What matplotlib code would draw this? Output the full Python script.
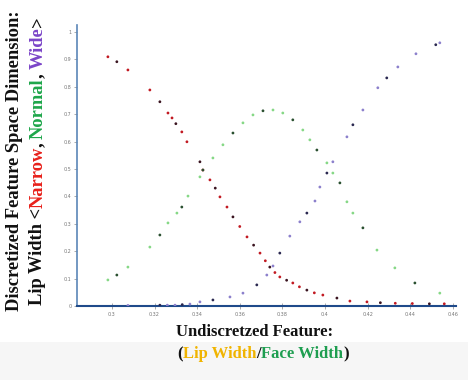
import matplotlib
matplotlib.use("Agg")
import matplotlib.pyplot as plt
from matplotlib.patches import Rectangle

# ---- data ----
narrow_x = [0.2981, 0.3023, 0.3075, 0.3178, 0.3225, 0.3263, 0.3282, 0.3300, 0.3328, 0.3352,
            0.3413, 0.3427, 0.3460, 0.3485, 0.3507, 0.3540, 0.3568, 0.3600, 0.3634, 0.3665,
            0.3695, 0.3720, 0.3741, 0.3765, 0.3788, 0.3820, 0.3849, 0.3880, 0.3915, 0.3950,
            0.3990, 0.4056, 0.4117, 0.4197, 0.4260, 0.4330, 0.4410, 0.4490, 0.4560]
narrow_y = [0.909, 0.891, 0.861, 0.788, 0.745, 0.704, 0.686, 0.665, 0.635, 0.599,
            0.526, 0.496, 0.460, 0.430, 0.398, 0.361, 0.325, 0.290, 0.252, 0.222,
            0.193, 0.165, 0.142, 0.122, 0.106, 0.094, 0.084, 0.070, 0.058, 0.048,
            0.040, 0.029, 0.018, 0.015, 0.012, 0.010, 0.009, 0.008, 0.008]

normal_x = [0.2981, 0.3023, 0.3075, 0.3178, 0.3225, 0.3263, 0.3305, 0.3328, 0.3357, 0.3413,
            0.3427, 0.3474, 0.3521, 0.3568, 0.3615, 0.3662, 0.3709, 0.3756, 0.3802, 0.3849,
            0.3896, 0.3929, 0.3962, 0.4009, 0.4037, 0.4070, 0.4103, 0.4131, 0.4178, 0.4244,
            0.4328, 0.4422, 0.4539]
normal_y = [0.095, 0.113, 0.142, 0.215, 0.259, 0.303, 0.339, 0.361, 0.401, 0.471,
            0.496, 0.540, 0.588, 0.631, 0.668, 0.697, 0.712, 0.715, 0.704, 0.679,
            0.642, 0.606, 0.569, 0.522, 0.485, 0.449, 0.380, 0.339, 0.285, 0.204,
            0.139, 0.084, 0.047]

wide_x = [0.3075, 0.3225, 0.3260, 0.3296, 0.3330, 0.3366, 0.3413, 0.3474, 0.3554, 0.3615,
          0.3680, 0.3727, 0.3756, 0.3788, 0.3835, 0.3882, 0.3915, 0.3953, 0.3976, 0.4009,
          0.4037, 0.4103, 0.4131, 0.4178, 0.4248, 0.4290, 0.4342, 0.4427, 0.4520, 0.4539]
wide_y = [0.002, 0.003, 0.003, 0.003, 0.005, 0.007, 0.015, 0.022, 0.033, 0.047,
          0.077, 0.113, 0.146, 0.193, 0.255, 0.307, 0.339, 0.383, 0.434, 0.485,
          0.526, 0.617, 0.661, 0.715, 0.796, 0.832, 0.872, 0.920, 0.953, 0.960]

x_ticks = [0.30, 0.32, 0.34, 0.36, 0.38, 0.40, 0.42, 0.44, 0.46]
x_tick_labels = ["0.3", "0.32", "0.34", "0.36", "0.38", "0.4", "0.42", "0.44", "0.46"]
y_ticks = [0.0, 0.1, 0.2, 0.3, 0.4, 0.5, 0.6, 0.7, 0.8, 0.9, 1.0]
y_tick_labels = ["0", "0.1", "0.2", "0.3", "0.4", "0.5", "0.6", "0.7", "0.8", "0.9", "1"]

ylabel_line1 = [("Discretized Feature Space Dimension:", "#111111")]
ylabel_line2 = [("Lip Width <", "#111111"), ("Narrow", "#e8201a"), (", ", "#111111"),
                ("Normal", "#1ea64a"), (", ", "#111111"), ("Wide", "#7b45c8"), (">", "#111111")]
xlabel_line1 = [("Undiscretzed Feature:", "#111111")]
xlabel_line2 = [("(", "#111111"), ("Lip Width", "#f0b400"), ("/", "#111111"),
                ("Face Width", "#1e9e50"), (")", "#111111")]

# ---- figure ----
W, H = 468, 380
fig = plt.figure(figsize=(W / 100, H / 100), dpi=100)
fig.patch.set_facecolor("white")
fig.add_artist(Rectangle((0, 0), 1, 38 / H, transform=fig.transFigure,
                         facecolor="#f6f6f6", edgecolor="none", zorder=0))
ax = fig.add_axes([77 / W, 1 - 306 / H, (456 - 77) / W, (306 - 25) / H])
ax.set_xlim(0.2836, 0.4615)
ax.set_ylim(0, 1.025)

def alt_colors(n, c1, c2):
    return [c2 if i % 3 == 1 else c1 for i in range(n)]

ax.scatter(narrow_x, narrow_y, s=4, c=alt_colors(len(narrow_x), "#c21a22", "#3a1420"),
           linewidths=0, zorder=3)
ax.scatter(normal_x, normal_y, s=4, c=alt_colors(len(normal_x), "#86d886", "#2a5030"),
           linewidths=0, zorder=3)
ax.scatter(wide_x, wide_y, s=4, c=alt_colors(len(wide_x), "#8c80cc", "#2a2850"),
           linewidths=0, zorder=3)

for s in ["top", "right"]:
    ax.spines[s].set_visible(False)
ax.spines["left"].set_color("#5b86b8")
ax.spines["left"].set_linewidth(1.2)
ax.spines["bottom"].set_color("#1f4a8a")
ax.spines["bottom"].set_linewidth(1.5)

ax.set_xticks(x_ticks)
ax.set_xticklabels(x_tick_labels)
ax.set_yticks(y_ticks)
ax.set_yticklabels(y_tick_labels)
ax.tick_params(axis="x", direction="inout", length=5, width=0.5, color="#888888",
               labelsize=3.5, labelcolor="#777777", pad=2)
ax.tick_params(axis="y", direction="out", length=2, width=0.5, color="#888888",
               labelsize=3.5, labelcolor="#777777", pad=2)

# ---- multi-coloured labels ----
renderer = fig.canvas.get_renderer()
FONT = dict(family="Liberation Serif", weight="bold")

def text_width(s, size):
    t = fig.text(0, 0, s + "x", fontsize=size, **FONT)
    w1 = t.get_window_extent(renderer).width
    t.remove()
    t = fig.text(0, 0, "x", fontsize=size, **FONT)
    w2 = t.get_window_extent(renderer).width
    t.remove()
    return w1 - w2

def colored_line(pieces, cx, cy, size, rotation=0):
    full = "".join(p for p, _ in pieces)
    total = text_width(full, size)
    prefix = ""
    for s, c in pieces:
        off = text_width(prefix, size) if prefix else 0.0
        if rotation == 0:
            x = cx - total / 2 + off
            fig.text(x / W, 1 - cy / H, s, color=c, fontsize=size, ha="left",
                     va="center", **FONT)
        else:
            y = cy + total / 2 - off
            fig.text(cx / W, 1 - y / H, s, color=c, fontsize=size, ha="center",
                     va="bottom", rotation=90, **FONT)
        prefix += s

colored_line(ylabel_line1, 15, 161, 13.3, rotation=90)
colored_line(ylabel_line2, 38, 161, 13.3, rotation=90)
colored_line(xlabel_line1, 255, 332, 12)
colored_line(xlabel_line2, 263, 354, 12)

fig.savefig("out.png", dpi=100)
